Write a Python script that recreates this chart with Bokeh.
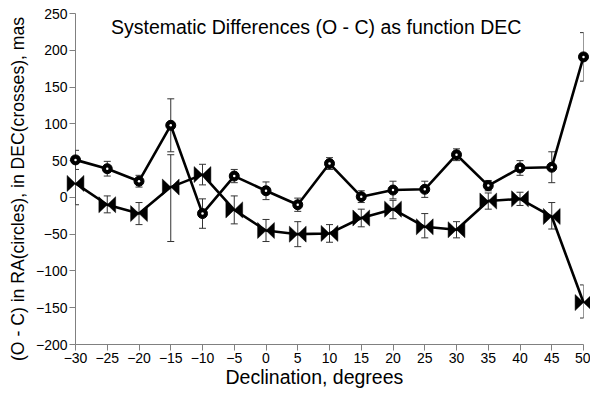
from bokeh.plotting import figure
from bokeh.models import ColumnDataSource, FixedTicker, Whisker, TeeHead, Label, Range1d, Title
from bokeh.embed import file_html
from bokeh.resources import INLINE

# ---- data ----
declination = [-30, -25, -20, -15, -10, -5, 0, 5, 10, 15, 20, 25, 30, 35, 40, 45, 50]
ra_oc = [51, 39, 22, 98, -22, 29, 9, -10, 46, 1, 10, 11, 58, 16, 40, 41, 191]
ra_err = [13, 10, 8, 36, 20, 9, 12, 9, 8, 8, 12, 11, 8, 7, 10, 21, 33]
dec_oc = [19, -10, -22, 14, 31, -17, -45, -50, -49, -28, -16, -40, -44, -5, -2, -26, -143]
dec_err_low = [29, 11, 15, 74, 14, 19, 15, 17, 12, 12, 13, 15, 11, 11, 9, 17, 21]
dec_err_high = [29, 12, 15, 44, 14, 19, 15, 17, 12, 12, 12, 18, 11, 11, 9, 19, 24]
x_ticks = [-30, -25, -20, -15, -10, -5, 0, 5, 10, 15, 20, 25, 30, 35, 40, 45, 50]
y_ticks = [-200, -150, -100, -50, 0, 50, 100, 150, 200, 250]

title_text = "Systematic Differences (O - C) as function DEC"
x_label = "Declination, degrees"
y_label = "(O - C) in RA(circles), in DEC(crosses), mas"

# ---- layout ----
X0, X1 = -30, 50
Y0, Y1 = -200, 250
FW, FH = 515, 331
BL, BR, BT, BB = 68, 7, 13, 48
sx = FW / (X1 - X0)   # px per data unit
sy = FH / (Y1 - Y0)

FONT = "Liberation Sans"

p = figure(width=BL + FW + BR, height=BT + FH + BB,
           x_range=Range1d(X0, X1), y_range=Range1d(Y0, Y1),
           output_backend="svg", toolbar_location=None,
           min_border_left=BL, min_border_right=BR,
           min_border_top=BT, min_border_bottom=BB)
p.outline_line_color = None
p.xgrid.visible = False
p.ygrid.visible = False
p.background_fill_color = "white"
p.border_fill_color = "white"

p.xaxis.ticker = FixedTicker(ticks=x_ticks)
p.yaxis.ticker = FixedTicker(ticks=y_ticks)
for ax in (p.xaxis, p.yaxis):
    ax.axis_line_color = "#808080"
    ax.axis_line_width = 1
    ax.major_tick_line_color = "#808080"
    ax.minor_tick_line_color = None
    ax.major_tick_out = 6
    ax.major_tick_in = 0
    ax.major_label_standoff = 2
    ax.major_label_text_font = FONT
    ax.major_label_text_font_size = "14px"
    ax.major_label_text_color = "black"

# axis titles (placed beside the axes so they can sit off-centre as in the reference)
p.add_layout(Title(text=x_label, align="left", offset=150, vertical_align="top",
                   standoff=0, text_font=FONT, text_font_size="19.5px",
                   text_font_style="normal", text_color="black"), "below")
p.add_layout(Title(text=y_label, align="left", offset=-16.5, vertical_align="bottom",
                   standoff=10, text_font=FONT, text_font_size="17.6px",
                   text_font_style="normal", text_color="black"), "left")

# ---- error bars ----
ra_src = ColumnDataSource(dict(
    x=declination,
    lower=[v - e for v, e in zip(ra_oc, ra_err)],
    upper=[v + e for v, e in zip(ra_oc, ra_err)]))
dec_src = ColumnDataSource(dict(
    x=declination,
    lower=[v - e for v, e in zip(dec_oc, dec_err_low)],
    upper=[v + e for v, e in zip(dec_oc, dec_err_high)]))
for src in (ra_src, dec_src):
    w = Whisker(source=src, base="x", lower="lower", upper="upper", dimension="height",
                line_color="#333333", line_width=1, level="annotation",
                upper_head=TeeHead(size=7, line_color="#333333", line_width=1),
                lower_head=TeeHead(size=7, line_color="#333333", line_width=1))
    p.add_layout(w)

# ---- DEC series (bow-tie markers) ----
r = p.line(declination, dec_oc, line_color="black", line_width=2.6)
r.level = "overlay"
hw, hh = 8.5 / sx, 8.0 / sy
bx = [[x - hw, x, x + hw, x + hw, x, x - hw] for x in declination]
by = [[y + hh, y, y + hh, y - hh, y, y - hh] for y in dec_oc]
r = p.patches(bx, by, fill_color="black", line_color="black", line_width=0.5)
r.level = "overlay"

# ---- RA series (circles) ----
r = p.line(declination, ra_oc, line_color="black", line_width=2.6)
r.level = "overlay"
r = p.scatter(declination, ra_oc, marker="circle", size=10,
              fill_color="black", line_color="black")
r.level = "overlay"
r = p.scatter(declination, ra_oc, marker="circle", size=2.5,
              fill_color="white", line_color=None)
r.level = "overlay"

# ---- title inside the plot area ----
p.add_layout(Label(x=X0 + 244 / sx, y=Y1 - 13.5 / sy, text=title_text,
                   text_align="center", text_baseline="alphabetic",
                   text_font=FONT, text_font_size="19.5px", text_color="black"))

open("out.html", "w").write(file_html(p, INLINE))
